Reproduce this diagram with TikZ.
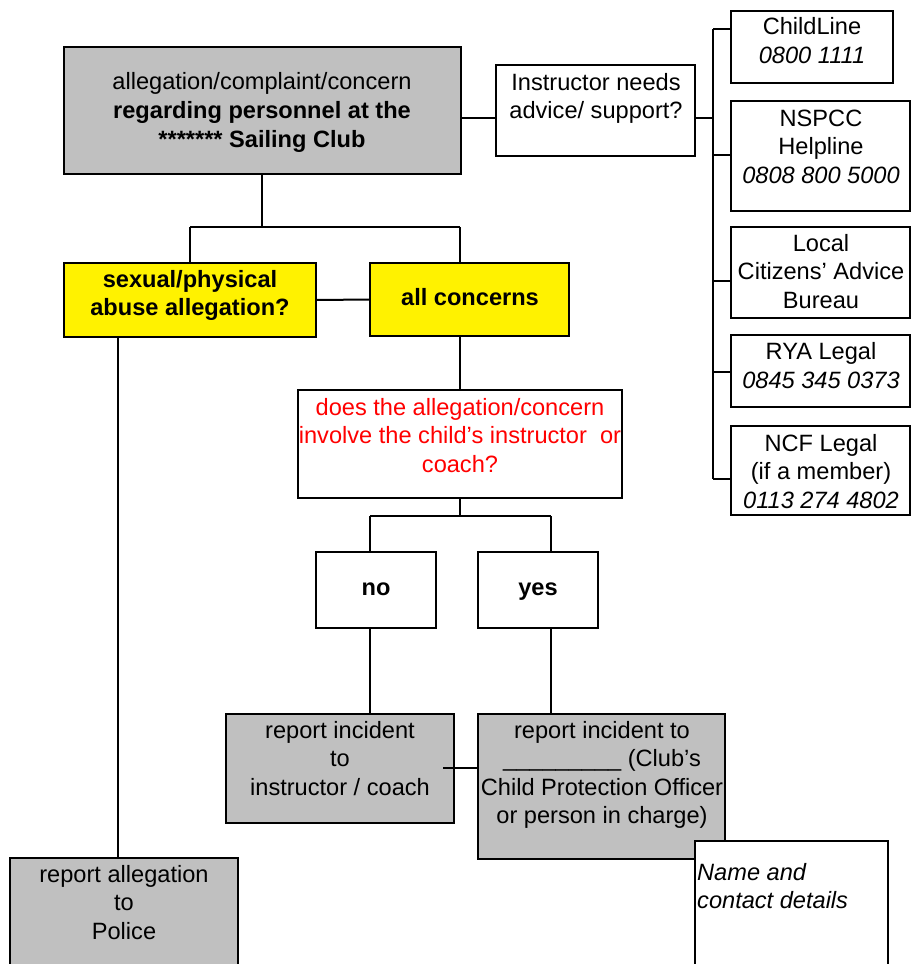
\documentclass[tikz,border=0pt]{standalone}
\usepackage{fontspec}
\setmainfont{Liberation Sans}
\definecolor{boxgray}{HTML}{C0C0C0}
\definecolor{qred}{HTML}{FF0000}
\newcommand\fs{\fontsize{23.6}{28.5}\selectfont}
\newcommand\fst{\rule{0pt}{20pt}}
\newcommand\mkbox[6]{\node[#1, minimum width={#4-#2}, minimum height={#5-#3}] (#6) at (#2,#3) {};}
\tikzset{
  bx/.style={draw=black, line width=1.6pt, rectangle, inner sep=0pt, outer sep=0pt, anchor=north west},
  gbox/.style={bx, fill=boxgray},
  ybox/.style={bx, fill=yellow},
  wbox/.style={bx, fill=white},
  txt/.style={inner sep=0pt, align=center, anchor=north, font=\fs},
  conn/.style={line width=2pt},
}
\begin{document}
\begin{tikzpicture}[x=1pt,y=-1pt]
\useasboundingbox (0,0) rectangle (912,964);
\clip (0,0) rectangle (912,964);

% boxes
\mkbox{gbox}{64}{47}{461}{174}{main}
\mkbox{wbox}{496}{65}{695}{156}{instr}
\mkbox{wbox}{731}{11}{893}{83}{cl}
\mkbox{wbox}{731}{101}{910}{211}{ns}
\mkbox{wbox}{731}{227}{910}{318}{loc}
\mkbox{wbox}{731}{335}{910}{407}{rya}
\mkbox{wbox}{731}{426}{910}{515}{ncf}
\mkbox{ybox}{64}{263}{316}{337}{sex}
\mkbox{ybox}{370}{263}{569}{336}{conc}
\mkbox{wbox}{298}{390}{622}{498}{q}
\mkbox{wbox}{316}{552}{436}{628}{no}
\mkbox{wbox}{478}{552}{598}{628}{yes}
\mkbox{gbox}{226}{714}{454}{823}{rinst}
\mkbox{gbox}{478}{714}{725}{859}{rcpo}
\mkbox{gbox}{10}{858}{238}{980}{police}

% junction coordinates
\coordinate (jA) at (262,227);
\coordinate (jL) at (190,227);
\coordinate (jR) at (460,227);
\coordinate (pl) at (118,337);
\coordinate (jN) at (370,516);
\coordinate (jY) at (551,516);
\coordinate (ji) at (713,118);
\coordinate (bt) at (713,29);
\coordinate (b2) at (713,155);
\coordinate (b3) at (713,281);
\coordinate (b4) at (713,372);
\coordinate (bb) at (713,479);
\coordinate (rc) at (443,768);

% connectors
\draw[conn] (main.south -| jA) -- (jA);
\draw[conn] (jL) -- (jR);
\draw[conn] (jL) -- (jL |- sex.north);
\draw[conn] (jR) -- (jR |- conc.north);
\draw[conn] (sex.east) -- (conc.west);
\draw[conn] (sex.south -| pl) -- (police.north -| pl);
\draw[conn] (conc.south -| q.north) -- (q.north);
\draw[conn] (q.south) -- (q.south |- jN);
\draw[conn] (jN) -- (jY);
\draw[conn] (jN) -- (jN |- no.north);
\draw[conn] (jY) -- (jY |- yes.north);
\draw[conn] (no.south -| jN) -- (rinst.north -| jN);
\draw[conn] (yes.south -| jY) -- (rcpo.north -| jY);
\draw[conn] (rc) -- (rc -| rcpo.west);
\draw[conn] (main.east |- ji) -- (instr.west |- ji);
\draw[conn] (instr.east |- ji) -- (ji);
\draw[conn] (bt) -- (bb);
\draw[conn] (bt) -- (bt -| cl.west);
\draw[conn] (b2) -- (b2 -| ns.west);
\draw[conn] (b3) -- (b3 -| loc.west);
\draw[conn] (b4) -- (b4 -| rya.west);
\draw[conn] (bb) -- (bb -| ncf.west);

% name box, lying over the CPO box
\mkbox{wbox}{695}{841}{888}{980}{name}

% texts
\node[txt, font=\fontsize{23.6}{29}\selectfont] (mainT) at (262,69) {\fst allegation/complaint/concern\\\textbf{regarding personnel at the}\\\textbf{******* Sailing Club}};
\node[txt, font=\fontsize{23.6}{28}\selectfont] (instrT) at (596,70) {\fst Instructor needs\\advice/ support?};
\node[txt, font=\fontsize{23.6}{29}\selectfont] (clT) at (812,14) {\fst ChildLine\\\textit{0800 1111}};
\node[txt] (nsT) at (821,106) {\fst NSPCC\\Helpline\\\textit{0808 800 5000}};
\node[txt] (locT) at (821,231) {\fst Local\\Citizens’ Advice\\Bureau};
\node[txt, font=\fontsize{23.6}{29}\selectfont] (ryaT) at (821,339) {\fst RYA Legal\\\textit{0845 345 0373}};
\node[txt] (ncfT) at (821,431) {\fst NCF Legal\\(if a member)\\\textit{0113 274 4802}};
\node[txt, font=\fs\bfseries] (sexT) at (190,267) {\fst sexual/physical\\abuse allegation?};
\node[txt, font=\fs\bfseries] (concT) at (470,285) {\fst all concerns};
\node[txt, text=qred] (qT) at (460,395) {\fst does the allegation/concern\\involve the child’s instructor\ \ or\\coach?};
\node[txt, font=\fs\bfseries] (noT) at (376,575) {\fst no};
\node[txt, font=\fs\bfseries] (yesT) at (538,575) {\fst yes};
\node[txt] (riT) at (340,718) {\fst report incident\\to\\instructor / coach};
\node[txt] (rcT) at (602,718) {\fst report incident to\\\_\_\_\_\_\_\_\_\_ (Club’s\\Child Protection Officer\\or person in charge)};
\node[txt] (poT) at (124,862) {\fst report allegation\\to\\Police};
\node[txt, align=left, anchor=north west, font=\fs\itshape] (nmT) at (697,860) {\fst Name and\\contact details};
\end{tikzpicture}
\end{document}
